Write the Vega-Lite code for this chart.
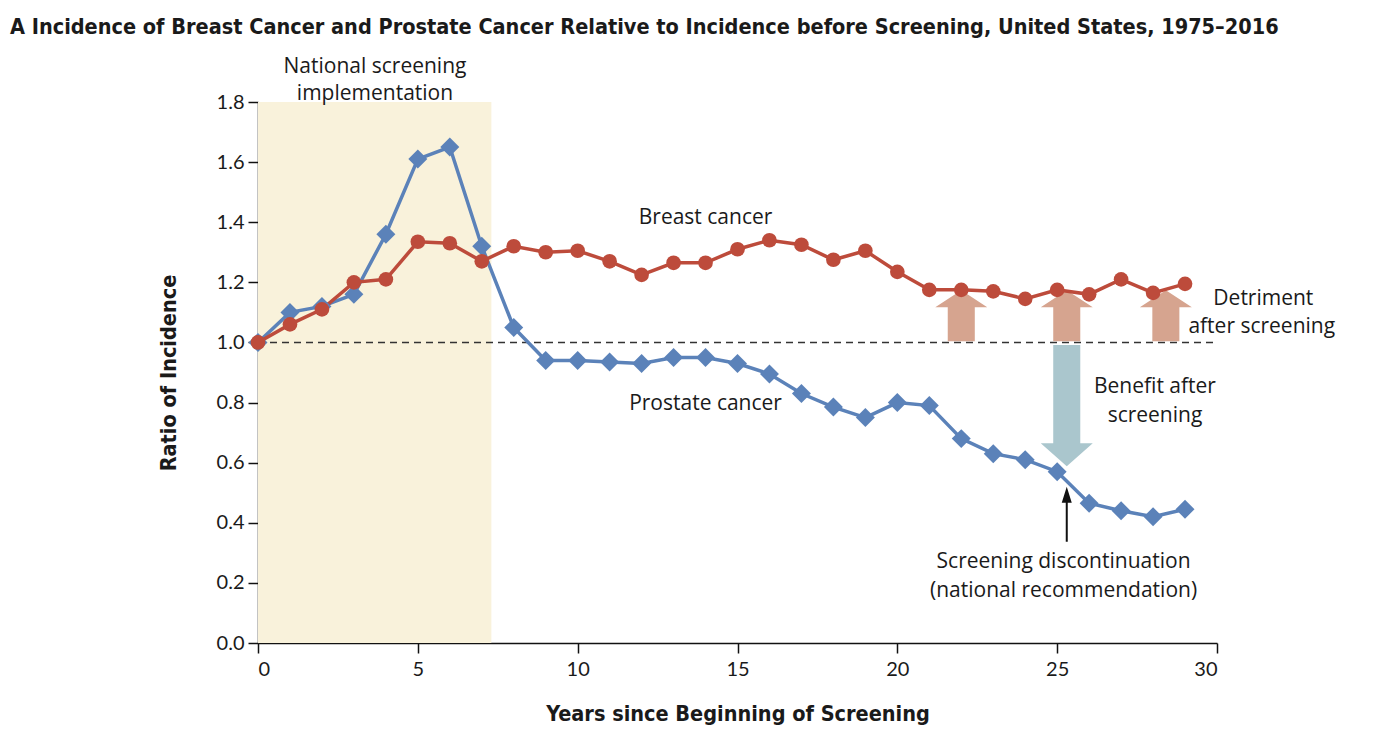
{
  "$schema": "https://vega.github.io/schema/vega-lite/v6.json",
  "autosize": "none",
  "width": 959,
  "height": 541,
  "padding": {"left": 258, "top": 102, "right": 173, "bottom": 99},
  "background": "white",
  "title": {
    "text": "A  Incidence of Breast Cancer and Prostate Cancer Relative to Incidence before Screening, United States, 1975\u20132016",
    "anchor": "start",
    "frame": "group",
    "dx": -248,
    "offset": 17,
    "font": "DejaVu Sans Condensed",
    "fontSize": 21.5,
    "fontWeight": "bold",
    "color": "#1a1a1a"
  },
  "config": {
    "view": {"stroke": null},
    "axis": {"grid": false}
  },
  "datasets": {
    "series": [
      {"year": 0, "ratio": 1.0, "cancer": "Prostate"},
      {"year": 1, "ratio": 1.10, "cancer": "Prostate"},
      {"year": 2, "ratio": 1.12, "cancer": "Prostate"},
      {"year": 3, "ratio": 1.16, "cancer": "Prostate"},
      {"year": 4, "ratio": 1.36, "cancer": "Prostate"},
      {"year": 5, "ratio": 1.61, "cancer": "Prostate"},
      {"year": 6, "ratio": 1.65, "cancer": "Prostate"},
      {"year": 7, "ratio": 1.32, "cancer": "Prostate"},
      {"year": 8, "ratio": 1.05, "cancer": "Prostate"},
      {"year": 9, "ratio": 0.94, "cancer": "Prostate"},
      {"year": 10, "ratio": 0.94, "cancer": "Prostate"},
      {"year": 11, "ratio": 0.935, "cancer": "Prostate"},
      {"year": 12, "ratio": 0.93, "cancer": "Prostate"},
      {"year": 13, "ratio": 0.95, "cancer": "Prostate"},
      {"year": 14, "ratio": 0.95, "cancer": "Prostate"},
      {"year": 15, "ratio": 0.93, "cancer": "Prostate"},
      {"year": 16, "ratio": 0.895, "cancer": "Prostate"},
      {"year": 17, "ratio": 0.83, "cancer": "Prostate"},
      {"year": 18, "ratio": 0.785, "cancer": "Prostate"},
      {"year": 19, "ratio": 0.75, "cancer": "Prostate"},
      {"year": 20, "ratio": 0.80, "cancer": "Prostate"},
      {"year": 21, "ratio": 0.79, "cancer": "Prostate"},
      {"year": 22, "ratio": 0.68, "cancer": "Prostate"},
      {"year": 23, "ratio": 0.63, "cancer": "Prostate"},
      {"year": 24, "ratio": 0.61, "cancer": "Prostate"},
      {"year": 25, "ratio": 0.57, "cancer": "Prostate"},
      {"year": 26, "ratio": 0.465, "cancer": "Prostate"},
      {"year": 27, "ratio": 0.44, "cancer": "Prostate"},
      {"year": 28, "ratio": 0.42, "cancer": "Prostate"},
      {"year": 29, "ratio": 0.445, "cancer": "Prostate"},
      {"year": 0, "ratio": 1.0, "cancer": "Breast"},
      {"year": 1, "ratio": 1.06, "cancer": "Breast"},
      {"year": 2, "ratio": 1.11, "cancer": "Breast"},
      {"year": 3, "ratio": 1.20, "cancer": "Breast"},
      {"year": 4, "ratio": 1.21, "cancer": "Breast"},
      {"year": 5, "ratio": 1.335, "cancer": "Breast"},
      {"year": 6, "ratio": 1.33, "cancer": "Breast"},
      {"year": 7, "ratio": 1.27, "cancer": "Breast"},
      {"year": 8, "ratio": 1.32, "cancer": "Breast"},
      {"year": 9, "ratio": 1.30, "cancer": "Breast"},
      {"year": 10, "ratio": 1.305, "cancer": "Breast"},
      {"year": 11, "ratio": 1.27, "cancer": "Breast"},
      {"year": 12, "ratio": 1.225, "cancer": "Breast"},
      {"year": 13, "ratio": 1.265, "cancer": "Breast"},
      {"year": 14, "ratio": 1.265, "cancer": "Breast"},
      {"year": 15, "ratio": 1.31, "cancer": "Breast"},
      {"year": 16, "ratio": 1.34, "cancer": "Breast"},
      {"year": 17, "ratio": 1.325, "cancer": "Breast"},
      {"year": 18, "ratio": 1.275, "cancer": "Breast"},
      {"year": 19, "ratio": 1.305, "cancer": "Breast"},
      {"year": 20, "ratio": 1.235, "cancer": "Breast"},
      {"year": 21, "ratio": 1.175, "cancer": "Breast"},
      {"year": 22, "ratio": 1.175, "cancer": "Breast"},
      {"year": 23, "ratio": 1.17, "cancer": "Breast"},
      {"year": 24, "ratio": 1.145, "cancer": "Breast"},
      {"year": 25, "ratio": 1.175, "cancer": "Breast"},
      {"year": 26, "ratio": 1.16, "cancer": "Breast"},
      {"year": 27, "ratio": 1.21, "cancer": "Breast"},
      {"year": 28, "ratio": 1.165, "cancer": "Breast"},
      {"year": 29, "ratio": 1.195, "cancer": "Breast"}
    ],
    "shade": [{"start": 0, "end": 7.3, "low": 0, "high": 1.8}],
    "baseline": [{"start": 0, "end": 30, "ratio": 1.0}],
    "upArrows": [{"year": 22.0, "ratio": 1.087}, {"year": 25.3, "ratio": 1.087}, {"year": 28.4, "ratio": 1.087}],
    "downArrow": [{"year": 25.3, "ratio": 0.79}],
    "pointer": [{"year": 25.3, "ratio": 0.428}],
    "labels": [
      {"year": 3.66, "ratio": 1.917, "label": "National screening"},
      {"year": 3.66, "ratio": 1.825, "label": "implementation"},
      {"year": 14.0, "ratio": 1.414, "label": "Breast cancer"},
      {"year": 14.0, "ratio": 0.795, "label": "Prostate cancer"},
      {"year": 31.45, "ratio": 1.145, "label": "Detriment"},
      {"year": 31.4, "ratio": 1.05, "label": "after screening"},
      {"year": 28.06, "ratio": 0.852, "label": "Benefit after"},
      {"year": 28.06, "ratio": 0.755, "label": "screening"},
      {"year": 25.2, "ratio": 0.27, "label": "Screening discontinuation"},
      {"year": 25.2, "ratio": 0.173, "label": "(national recommendation)"}
    ]
  },
  "layer": [
    {
      "data": {"name": "shade"},
      "mark": {"type": "rect", "color": "#f9f2db"},
      "encoding": {
        "x": {"field": "start", "type": "quantitative", "scale": {"domain": [0, 30], "nice": false}},
        "x2": {"field": "end"},
        "y": {"field": "low", "type": "quantitative", "scale": {"domain": [0, 1.8], "nice": false}},
        "y2": {"field": "high"}
      }
    },
    {
      "data": {"name": "baseline"},
      "mark": {"type": "rule", "color": "#333333", "strokeWidth": 1.5, "strokeDash": [7, 5]},
      "encoding": {
        "x": {"field": "start", "type": "quantitative"},
        "x2": {"field": "end"},
        "y": {"field": "ratio", "type": "quantitative"}
      }
    },
    {
      "data": {"name": "upArrows"},
      "mark": {"type": "point", "filled": true, "opacity": 1, "color": "#d6a48f", "size": 2704,
               "shape": "M0,-1 L1,-0.35 L0.52,-0.35 L0.52,0.96 L-0.52,0.96 L-0.52,-0.35 L-1,-0.35 Z"},
      "encoding": {
        "x": {"field": "year", "type": "quantitative"},
        "y": {"field": "ratio", "type": "quantitative"}
      }
    },
    {
      "data": {"name": "downArrow"},
      "mark": {"type": "point", "filled": true, "opacity": 1, "color": "#aac6cd", "size": 2704,
               "shape": "M-0.52,-2.33 L0.52,-2.33 L0.52,1.45 L1,1.45 L0,2.33 L-1,1.45 L-0.52,1.45 Z"},
      "encoding": {
        "x": {"field": "year", "type": "quantitative"},
        "y": {"field": "ratio", "type": "quantitative"}
      }
    },
    {
      "data": {"name": "pointer"},
      "mark": {"type": "point", "filled": true, "opacity": 1, "color": "#111111", "size": 100,
               "shape": "M0,-5.5 L1,-2.3 L0.2,-2.3 L0.2,5.5 L-0.2,5.5 L-0.2,-2.3 L-1,-2.3 Z"},
      "encoding": {
        "x": {"field": "year", "type": "quantitative"},
        "y": {"field": "ratio", "type": "quantitative"}
      }
    },
    {
      "data": {"name": "series"},
      "mark": {"type": "line", "strokeWidth": 3.5},
      "encoding": {
        "x": {"field": "year", "type": "quantitative"},
        "y": {"field": "ratio", "type": "quantitative"},
        "color": {"field": "cancer", "type": "nominal", "scale": {"domain": ["Breast", "Prostate"], "range": ["#bd4b3b", "#5b82b9"]}, "legend": null},
        "order": {"field": "year", "type": "quantitative"}
      }
    },
    {
      "data": {"name": "series"},
      "mark": {"type": "point", "filled": true, "opacity": 1},
      "encoding": {
        "x": {"field": "year", "type": "quantitative",
              "axis": {"values": [0, 5, 10, 15, 20, 25, 30], "title": "Years since Beginning of Screening",
                       "labelFont": "Lato", "labelFontSize": 20, "labelColor": "#1a1a1a",
                       "titleFont": "DejaVu Sans Condensed", "titleFontSize": 21.5, "titleFontWeight": "bold", "titleColor": "#1a1a1a",
                       "domainColor": "#111111", "domainWidth": 1.5, "tickColor": "#111111", "tickWidth": 1.5, "tickSize": 10,
                       "labelPadding": 6, "titlePadding": 24}},
        "y": {"field": "ratio", "type": "quantitative",
              "axis": {"values": [0, 0.2, 0.4, 0.6, 0.8, 1.0, 1.2, 1.4, 1.6, 1.8], "format": ".1f", "title": "Ratio of Incidence",
                       "labelFont": "Lato", "labelFontSize": 20, "labelColor": "#1a1a1a",
                       "titleFont": "DejaVu Sans Condensed", "titleFontSize": 21.5, "titleFontWeight": "bold", "titleColor": "#1a1a1a",
                       "domainColor": "#111111", "domainWidth": 1.5, "tickColor": "#111111", "tickWidth": 1.5, "tickSize": 10,
                       "labelPadding": 4, "titlePadding": 36}},
        "color": {"field": "cancer", "type": "nominal", "scale": {"domain": ["Breast", "Prostate"], "range": ["#bd4b3b", "#5b82b9"]}, "legend": null},
        "shape": {"field": "cancer", "type": "nominal", "scale": {"domain": ["Breast", "Prostate"], "range": ["circle", "diamond"]}, "legend": null},
        "size": {"field": "cancer", "type": "nominal", "scale": {"domain": ["Breast", "Prostate"], "range": [215, 360]}, "legend": null}
      }
    },
    {
      "data": {"name": "labels"},
      "mark": {"type": "text", "font": "Open Sans", "fontSize": 21, "color": "#1a1a1a", "align": "center", "baseline": "middle"},
      "encoding": {
        "x": {"field": "year", "type": "quantitative"},
        "y": {"field": "ratio", "type": "quantitative"},
        "text": {"field": "label"}
      }
    }
  ]
}
